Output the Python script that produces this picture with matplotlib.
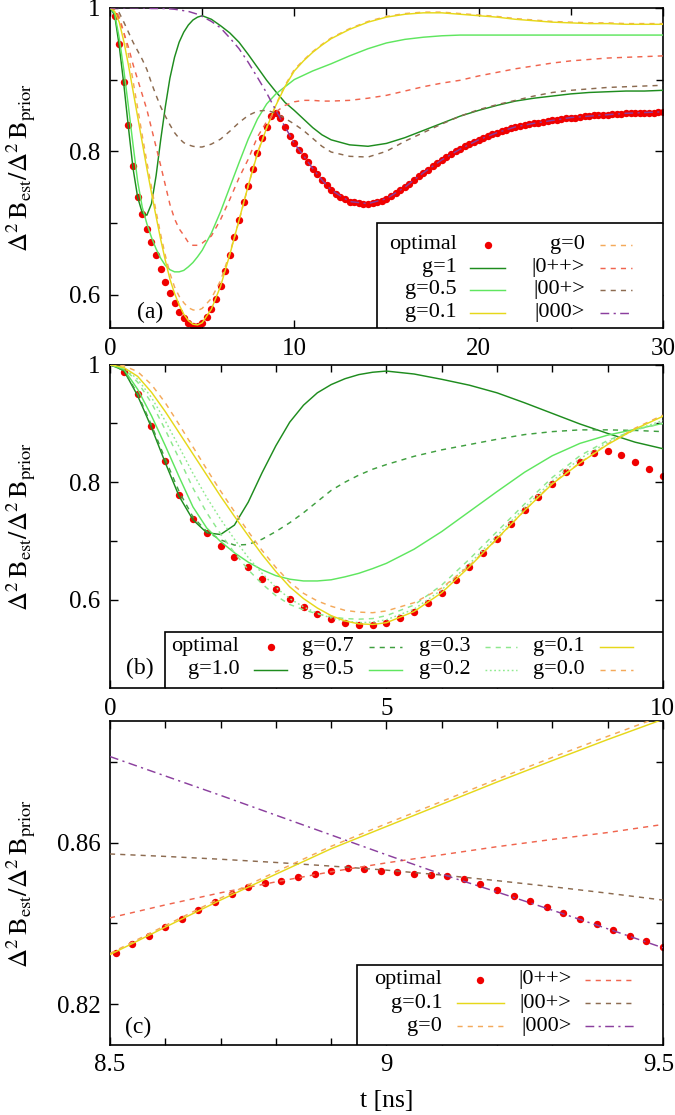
import numpy as np
import matplotlib.pyplot as plt
from matplotlib.patches import Rectangle
from matplotlib.transforms import ScaledTranslation

plt.rcParams['font.family'] = ['Liberation Serif', 'DejaVu Serif']
plt.rcParams['mathtext.fontset'] = 'stix'

# ---- optimal (red dots), sampled every 0.25 ns ----
opt_t = np.arange(1, 121) * 0.25
opt_v = [0.988, 0.950, 0.896, 0.836, 0.779, 0.737, 0.713, 0.692,
         0.673, 0.655, 0.636, 0.618, 0.602, 0.588, 0.576, 0.567,
         0.561, 0.557, 0.557, 0.561, 0.569, 0.580, 0.594, 0.612,
         0.633, 0.656, 0.680, 0.704, 0.729, 0.752, 0.775, 0.797,
         0.818, 0.834, 0.849, 0.853, 0.846, 0.834, 0.822, 0.811,
         0.802, 0.794, 0.785, 0.776, 0.768, 0.760, 0.753, 0.746,
         0.741, 0.737, 0.733, 0.730, 0.729, 0.728, 0.727, 0.727,
         0.728, 0.729, 0.731, 0.734, 0.738, 0.742, 0.746, 0.750,
         0.755, 0.760, 0.765, 0.770, 0.774, 0.779, 0.784, 0.788,
         0.792, 0.796, 0.800, 0.803, 0.807, 0.810, 0.813, 0.816,
         0.819, 0.821, 0.824, 0.826, 0.828, 0.830, 0.832, 0.834,
         0.835, 0.837, 0.838, 0.839, 0.840, 0.841, 0.842, 0.843,
         0.844, 0.845, 0.846, 0.847, 0.847, 0.848, 0.849, 0.849,
         0.850, 0.850, 0.851, 0.851, 0.852, 0.852, 0.852, 0.853,
         0.853, 0.853, 0.854, 0.854, 0.854, 0.854, 0.855, 0.855]

# ---- curves on a common time grid (ns) ----
t = [0, 0.25, 0.5, 0.75, 1.0, 1.25, 1.5, 1.75, 2.0, 2.25, 2.5, 2.75, 3.0,
     3.25, 3.5, 3.75, 4.0, 4.25, 4.5, 4.75, 5.0, 5.5, 6.0, 6.5, 7.0, 7.5,
     8.0, 8.5, 9.0, 9.5, 10.0, 10.5, 11, 11.5, 12, 13, 14, 15, 16, 17, 18,
     19, 20, 21, 22, 23, 24, 25, 26, 27, 28, 29, 30]

g10 = [1.0, 0.990, 0.947, 0.893, 0.833, 0.776, 0.736, 0.714, 0.711, 0.727,
       0.766, 0.816, 0.862, 0.902, 0.931, 0.952, 0.966, 0.976, 0.983, 0.987,
       0.989, 0.984, 0.975, 0.965, 0.952, 0.935, 0.917, 0.899, 0.883, 0.868,
       0.857, 0.845, 0.833, 0.823, 0.816, 0.809, 0.807, 0.811, 0.819, 0.829,
       0.839, 0.849, 0.857, 0.864, 0.870, 0.874, 0.877, 0.880, 0.882, 0.883,
       0.884, 0.884, 0.885]
g05 = [1.0, 0.992, 0.958, 0.913, 0.862, 0.809, 0.758, 0.722, 0.699, 0.680,
       0.664, 0.651, 0.641, 0.635, 0.632, 0.632, 0.634, 0.639, 0.645, 0.653,
       0.662, 0.686, 0.716, 0.750, 0.784, 0.817, 0.845, 0.866, 0.880, 0.890,
       0.900, 0.906, 0.912, 0.917, 0.922, 0.933, 0.943, 0.951, 0.956, 0.959,
       0.961, 0.962, 0.962, 0.962, 0.962, 0.962, 0.962, 0.962, 0.962, 0.962,
       0.962, 0.962, 0.962]
g01 = [1.0, 0.995, 0.980, 0.953, 0.920, 0.884, 0.848, 0.812, 0.776, 0.742,
       0.709, 0.677, 0.648, 0.622, 0.602, 0.586, 0.573, 0.564, 0.559, 0.558,
       0.561, 0.580, 0.612, 0.656, 0.704, 0.752, 0.797, 0.8325, 0.864, 0.8905,
       0.912, 0.926, 0.938, 0.948, 0.957, 0.970, 0.980, 0.987, 0.991, 0.993,
       0.993, 0.991, 0.989, 0.987, 0.984, 0.982, 0.980, 0.979, 0.978, 0.978,
       0.977, 0.977, 0.977]
g00 = [1.0, 0.998, 0.988, 0.966, 0.935, 0.898, 0.860, 0.822, 0.785, 0.750,
       0.716, 0.684, 0.655, 0.630, 0.611, 0.598, 0.589, 0.582, 0.579, 0.578,
       0.581, 0.595, 0.620, 0.658, 0.703, 0.752, 0.798, 0.833, 0.865, 0.892,
       0.914, 0.927, 0.939, 0.949, 0.958, 0.971, 0.981, 0.988, 0.992, 0.994,
       0.994, 0.992, 0.990, 0.988, 0.985, 0.983, 0.981, 0.980, 0.979, 0.979,
       0.978, 0.978, 0.978]
s0pp = [1.0, 0.998, 0.985, 0.965, 0.945, 0.921, 0.900, 0.879, 0.858, 0.832,
        0.806, 0.780, 0.753, 0.726, 0.706, 0.692, 0.683, 0.673, 0.669, 0.669,
        0.672, 0.682, 0.705, 0.733, 0.763, 0.789, 0.820, 0.8414, 0.855, 0.864,
        0.869, 0.871, 0.871, 0.870, 0.870, 0.871, 0.874, 0.878, 0.884, 0.890,
        0.895, 0.899, 0.905, 0.910, 0.915, 0.919, 0.923, 0.926, 0.928, 0.930,
        0.931, 0.932, 0.933]
s00p = [1.0, 0.999, 0.993, 0.980, 0.966, 0.952, 0.940, 0.928, 0.914, 0.895,
        0.878, 0.862, 0.849, 0.837, 0.826, 0.818, 0.812, 0.809, 0.807, 0.806,
        0.806, 0.810, 0.817, 0.828, 0.840, 0.850, 0.856, 0.8572, 0.8532, 0.8458,
        0.838, 0.829, 0.818, 0.807, 0.799, 0.793, 0.792, 0.800, 0.814, 0.826,
        0.838, 0.849, 0.858, 0.865, 0.871, 0.877, 0.882, 0.885, 0.887, 0.889,
        0.890, 0.891, 0.892]
s000 = [1.0, 1.0, 1.0, 1.0, 1.0, 1.0, 1.0, 1.0, 0.9995, 0.999,
        0.999, 0.999, 0.999, 0.9985, 0.998, 0.997, 0.996, 0.995, 0.993, 0.991,
        0.988, 0.981, 0.972, 0.958, 0.943, 0.924, 0.903, 0.8813, 0.857, 0.834,
        0.811, 0.794, 0.776, 0.760, 0.746, 0.730, 0.727, 0.734, 0.750, 0.770,
        0.788, 0.803, 0.816, 0.826, 0.834, 0.839, 0.843, 0.847, 0.849, 0.851,
        0.853, 0.854, 0.855]

# panel (b) only, first 31 grid points (t <= 10)
g07 = [1.0, 0.990, 0.950, 0.897, 0.839, 0.784, 0.741, 0.716, 0.702, 0.693,
       0.694, 0.703, 0.716, 0.731, 0.748, 0.767, 0.786, 0.800, 0.812, 0.822,
       0.830, 0.844, 0.855, 0.864, 0.873, 0.881, 0.886, 0.889, 0.889, 0.888,
       0.886]
g03 = [1.0, 0.994, 0.970, 0.935, 0.889, 0.840, 0.790, 0.748, 0.712, 0.680,
       0.651, 0.627, 0.607, 0.592, 0.583, 0.576, 0.571, 0.568, 0.567, 0.568,
       0.573, 0.591, 0.625, 0.669, 0.716, 0.763, 0.808, 0.845, 0.871, 0.889,
       0.900]
g02 = [1.0, 0.995, 0.975, 0.944, 0.904, 0.860, 0.815, 0.774, 0.737, 0.703,
       0.672, 0.645, 0.621, 0.602, 0.588, 0.577, 0.569, 0.564, 0.561, 0.562,
       0.566, 0.584, 0.617, 0.661, 0.709, 0.757, 0.802, 0.840, 0.868, 0.889,
       0.905]

# ---- panel (c), 8.5 - 9.5 ns ----
tc = [8.5, 8.6, 8.7, 8.8, 8.9, 9.0, 9.1, 9.2, 9.3, 9.4, 9.5]
c_g01 = [0.8323, 0.8391, 0.8458, 0.8522, 0.8585, 0.8640, 0.8695, 0.8750,
         0.8803, 0.8855, 0.8905]
c_g00 = [0.8326, 0.8395, 0.8463, 0.8528, 0.8591, 0.8647, 0.8702, 0.8757,
         0.8811, 0.8863, 0.8914]
c_0pp = [0.8414, 0.8446, 0.8476, 0.8503, 0.8528, 0.8550, 0.8570, 0.8590,
         0.8608, 0.8625, 0.8645]
c_00p = [0.8572, 0.8566, 0.8559, 0.8551, 0.8542, 0.8532, 0.8520, 0.8506,
         0.8491, 0.8475, 0.8458]
c_000 = [0.8813, 0.8765, 0.8717, 0.8668, 0.8619, 0.8570, 0.8522, 0.8478,
         0.8433, 0.8387, 0.8340]
c_opt_t = 8.51 + 0.03 * np.arange(34)
c_opt_v = [0.8328, 0.8350, 0.8370, 0.8391, 0.8412, 0.8433, 0.8454, 0.8473,
           0.8491, 0.8499, 0.8506, 0.8514, 0.8523, 0.8529, 0.8537, 0.8535,
           0.8531, 0.8527, 0.8523, 0.8520, 0.8517, 0.8511, 0.8498, 0.8482,
           0.8469, 0.8455, 0.8440, 0.8426, 0.8412, 0.8399, 0.8385, 0.8370,
           0.8356, 0.8341]

RED = '#f00000'
MS = 5.3
st = {
    'g10': dict(color='#1e8c1e'),
    'g07': dict(color='#3f9f3f', dashes=(3.5, 3.5)),
    'g05': dict(color='#5fe65f'),
    'g03': dict(color='#8de88d', dashes=(3.5, 3.5)),
    'g02': dict(color='#8fea8f', dashes=(1.2, 1.8)),
    'g01': dict(color='#e6d81a'),
    'g00': dict(color='#f4a95a', dashes=(3.5, 3.5)),
    '0pp': dict(color='#f0654e', dashes=(3.5, 3.5)),
    '00p': dict(color='#8c6b50', dashes=(3.5, 3.5)),
    '000': dict(color='#8b3f9e', dashes=(6, 3, 1.5, 3)),
}

fig = plt.figure(figsize=(6.75, 11.15), dpi=100)
ax1 = fig.add_axes([0.163, 0.706, 0.819, 0.287])
ax2 = fig.add_axes([0.163, 0.383, 0.819, 0.290])
ax3 = fig.add_axes([0.163, 0.063, 0.819, 0.290])


def line(ax, x, y, key):
    ax.plot(x, y, lw=1.05, zorder=3, **st[key])


def key(ax, xt, xs, y, label, k):
    ax.text(xt, y, label, transform=ax.transAxes, ha='right', va='center',
            fontsize=16, zorder=7)
    if k is None:
        ax.plot([(xs[0] + xs[1]) / 2], [y], 'o', color=RED, ms=MS, mec='none',
                transform=ax.transAxes, zorder=7, clip_on=False)
    else:
        ax.plot(xs, [y, y], lw=1.05, transform=ax.transAxes, zorder=7, **st[k])


def box(ax, x0, y1):
    ax.add_patch(Rectangle((x0, 0), 1 - x0, y1, transform=ax.transAxes,
                           fc='white', ec='black', lw=1.2, zorder=6))


ylab = r'$\Delta^2\,\mathrm{B}_{\mathrm{est}}/\Delta^2\,\mathrm{B}_{\mathrm{prior}}$'

# ===== (a) =====
ax1.plot(opt_t, opt_v, 'o', color=RED, ms=MS, mec='none', zorder=2)
line(ax1, t, g10, 'g10')
line(ax1, t, g05, 'g05')
line(ax1, t, g00, 'g00')
line(ax1, t, g01, 'g01')
line(ax1, t, s0pp, '0pp')
line(ax1, t, s00p, '00p')
line(ax1, t, s000, '000')
ax1.set_xlim(0, 30)
ax1.set_ylim(0.554, 1.0)
ax1.set_xticks([0, 10, 20, 30], ['0', '10', '20', '30'])
ax1.set_xticks([5, 15, 25], minor=True)
ax1.set_yticks([0.6, 0.8, 1.0], ['0.6', '0.8', '1'])
ax1.set_yticks([0.7, 0.9], minor=True)
box(ax1, 0.483, 0.329)
r1 = [0.259, 0.1875, 0.119, 0.047]
key(ax1, 0.627, (0.652, 0.715), r1[0], 'optimal', None)
key(ax1, 0.627, (0.652, 0.715), r1[1], 'g=1', 'g10')
key(ax1, 0.627, (0.652, 0.715), r1[2], 'g=0.5', 'g05')
key(ax1, 0.627, (0.652, 0.715), r1[3], 'g=0.1', 'g01')
key(ax1, 0.859, (0.886, 0.945), r1[0], 'g=0', 'g00')
key(ax1, 0.859, (0.886, 0.945), r1[1], '|0++>', '0pp')
key(ax1, 0.859, (0.886, 0.945), r1[2], '|00+>', '00p')
key(ax1, 0.859, (0.886, 0.945), r1[3], '|000>', '000')
ax1.text(0.072, 0.047, '(a)', transform=ax1.transAxes, ha='center',
         va='center', fontsize=17)

# ===== (b) =====
mb = opt_t <= 10
ax2.plot(opt_t[mb], np.array(opt_v)[mb], 'o', color=RED, ms=MS, mec='none', zorder=2)
nb = 31
line(ax2, t[:nb], g10[:nb], 'g10')
line(ax2, t[:nb], g07, 'g07')
line(ax2, t[:nb], g05[:nb], 'g05')
line(ax2, t[:nb], g03, 'g03')
line(ax2, t[:nb], g02, 'g02')
line(ax2, t[:nb], g00[:nb], 'g00')
line(ax2, t[:nb], g01[:nb], 'g01')
ax2.set_xlim(0, 10)
ax2.set_ylim(0.45, 1.0)
ax2.set_xticks([0, 5, 10], ['0', '5', '10'])
ax2.set_xticks([1, 2, 3, 4, 6, 7, 8, 9], minor=True)
ax2.set_yticks([0.6, 0.8, 1.0], ['0.6', '0.8', '1'])
ax2.set_yticks([0.7, 0.9], minor=True)
box(ax2, 0.099, 0.174)
r2 = [0.128, 0.056]
key(ax2, 0.234, (0.261, 0.321), r2[0], 'optimal', None)
key(ax2, 0.234, (0.261, 0.321), r2[1], 'g=1.0', 'g10')
key(ax2, 0.441, (0.468, 0.528), r2[0], 'g=0.7', 'g07')
key(ax2, 0.441, (0.468, 0.528), r2[1], 'g=0.5', 'g05')
key(ax2, 0.652, (0.679, 0.737), r2[0], 'g=0.3', 'g03')
key(ax2, 0.652, (0.679, 0.737), r2[1], 'g=0.2', 'g02')
key(ax2, 0.859, (0.886, 0.946), r2[0], 'g=0.1', 'g01')
key(ax2, 0.859, (0.886, 0.946), r2[1], 'g=0.0', 'g00')
ax2.text(0.054, 0.061, '(b)', transform=ax2.transAxes, ha='center',
         va='center', fontsize=17)

# ===== (c) =====
ax3.plot(c_opt_t, c_opt_v, 'o', color=RED, ms=MS, mec='none', zorder=2)
line(ax3, tc, c_00p, '00p')
line(ax3, tc, c_0pp, '0pp')
line(ax3, tc, c_000, '000')
line(ax3, tc, c_g00, 'g00')
line(ax3, tc, c_g01, 'g01')
ax3.set_xlim(8.5, 9.5)
ax3.set_ylim(0.81, 0.89)
ax3.set_xticks([8.5, 9.0, 9.5], ['8.5', '9', '9.5'])
ax3.set_xticks([8.6, 8.7, 8.8, 8.9, 9.1, 9.2, 9.3, 9.4], minor=True)
ax3.set_yticks([0.82, 0.86], ['0.82', '0.86'])
ax3.set_yticks([0.84, 0.88], minor=True)
box(ax3, 0.447, 0.248)
r3 = [0.201, 0.129, 0.057]
key(ax3, 0.601, (0.628, 0.712), r3[0], 'optimal', None)
key(ax3, 0.601, (0.628, 0.712), r3[1], 'g=0.1', 'g01')
key(ax3, 0.601, (0.628, 0.712), r3[2], 'g=0', 'g00')
key(ax3, 0.835, (0.859, 0.949), r3[0], '|0++>', '0pp')
key(ax3, 0.835, (0.859, 0.949), r3[1], '|00+>', '00p')
key(ax3, 0.835, (0.859, 0.949), r3[2], '|000>', '000')
ax3.text(0.051, 0.052, '(c)', transform=ax3.transAxes, ha='center',
         va='center', fontsize=17)
ax3.set_xlabel('t [ns]', fontsize=18.5, labelpad=10)

for ax in (ax1, ax2, ax3):
    ax.tick_params(which='both', direction='in', top=True, right=True,
                   labelsize=18, width=1.0, pad=7)
    ax.tick_params(which='major', length=6)
    ax.tick_params(which='minor', length=5)
    for s in ax.spines.values():
        s.set_linewidth(1.2)
    ax.set_ylabel(ylab, fontsize=19)
    ax.yaxis.set_label_coords(-0.13, 0.5)

# keep the last x label of (c) inside the figure
lab = ax3.get_xticklabels()[-1]
lab.set_transform(lab.get_transform() + ScaledTranslation(-4 / 100, 0, fig.dpi_scale_trans))

fig.savefig('out.png', dpi=100)
